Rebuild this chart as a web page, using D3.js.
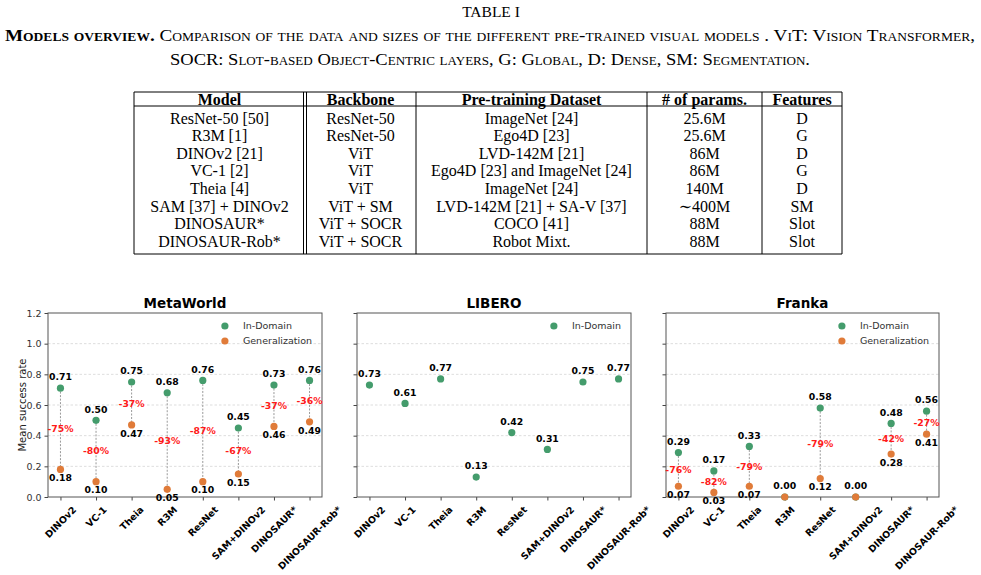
<!DOCTYPE html>
<html lang="en">
<head>
<meta charset="utf-8">
<title>Models overview</title>
<script src="https://d3js.org/d3.v7.min.js"></script>
<style>
  body { margin: 0; background: #fff; }
  svg text { fill: #000; }
</style>
</head>
<body>
<div id="page"></div>

<script type="text/javascript">
	// ---- table data ----
	var tableHeader = ['Model', 'Backbone', 'Pre-training Dataset', '# of params.', 'Features'];
	var tableModels = ['ResNet-50 [50]', 'R3M [1]', 'DINOv2 [21]', 'VC-1 [2]', 'Theia [4]', 'SAM [37] + DINOv2', 'DINOSAUR*', 'DINOSAUR-Rob*'];
	var tableBackbones = ['ResNet-50', 'ResNet-50', 'ViT', 'ViT', 'ViT', 'ViT + SM', 'ViT + SOCR', 'ViT + SOCR'];
	var tableDatasets = ['ImageNet [24]', 'Ego4D [23]', 'LVD-142M [21]', 'Ego4D [23] and ImageNet [24]', 'ImageNet [24]', 'LVD-142M [21] + SA-V [37]', 'COCO [41]', 'Robot Mixt.'];
	var tableParams = ['25.6M', '25.6M', '86M', '86M', '140M', '\u223C400M', '88M', '88M'];
	var tableFeatures = ['D', 'G', 'D', 'G', 'D', 'SM', 'Slot', 'Slot'];

	// ---- chart data ----
	var models = ['DINOv2', 'VC-1', 'Theia', 'R3M', 'ResNet', 'SAM+DINOv2', 'DINOSAUR*', 'DINOSAUR-Rob*'];
	var yTicks = [0.0, 0.2, 0.4, 0.6, 0.8, 1.0, 1.2];

	var metaIn  = [0.71, 0.50, 0.75, 0.68, 0.76, 0.45, 0.73, 0.76];
	var metaGen = [0.18, 0.10, 0.47, 0.05, 0.10, 0.15, 0.46, 0.49];
	var metaPct = [-75, -80, -37, -93, -87, -67, -37, -36];

	var liberoIn = [0.73, 0.61, 0.77, 0.13, 0.42, 0.31, 0.75, 0.77];

	var frankaIn  = [0.29, 0.17, 0.33, 0.00, 0.58, 0.00, 0.48, 0.56];
	var frankaGen = [0.07, 0.03, 0.07, 0.00, 0.12, 0.00, 0.28, 0.41];
	var frankaPct = [-76, -82, -79, null, -79, null, -42, -27];

	var green = '#449c6c', orange = '#e07b39', red = '#ff1a1a';
	var serif = '"Liberation Serif", "DejaVu Serif", serif',
		sans = '"DejaVu Sans", sans-serif';

	var svg = d3.select('#page').append('svg')
		.attr('width', 981)
		.attr('height', 575)
		.style('display', 'block');
	svg.append('rect').attr('width', 981).attr('height', 575).attr('fill', '#fff');

	// ---- caption ----
	svg.append('text')
		.attr('x', 491).attr('y', 17)
		.attr('text-anchor', 'middle')
		.style('font-family', serif).style('font-size', '15.5px')
		.text('TABLE I');

	var cap1 = svg.append('text')
		.attr('x', 5).attr('y', 41)
		.style('font-family', serif).style('font-size', '17px')
		.style('font-variant', 'small-caps');
	cap1.append('tspan').style('font-weight', 'bold').text('Models overview.');
	cap1.append('tspan').text(' Comparison of the data and sizes of the different pre-trained visual models . ViT: Vision Transformer,');
	cap1.attr('textLength', 970).attr('lengthAdjust', 'spacingAndGlyphs');

	svg.append('text')
		.attr('x', 170).attr('y', 65)
		.style('font-family', serif).style('font-size', '17px')
		.style('font-variant', 'small-caps')
		.attr('textLength', 640).attr('lengthAdjust', 'spacingAndGlyphs')
		.text('SOCR: Slot-based Object-Centric layers, G: Global, D: Dense, SM: Segmentation.');

	// ---- table ----
	var colEdges = [134, 305, 416, 647, 762, 842];
	var tTop = 92, tHead = 106, tBottom = 254, rowStep = 17.6, firstRow = 118;
	var tbl = svg.append('g');
	var tableCols = [tableModels, tableBackbones, tableDatasets, tableParams, tableFeatures];

	[tTop, tHead, tBottom].forEach(function(y){
		tbl.append('line').attr('x1', colEdges[0]).attr('x2', colEdges[5])
			.attr('y1', y).attr('y2', y).attr('stroke', '#000').attr('stroke-width', 1);
	});
	[134, 303.5, 306.5, 416, 647, 762, 842].forEach(function(x){
		tbl.append('line').attr('x1', x).attr('x2', x)
			.attr('y1', tTop).attr('y2', tBottom).attr('stroke', '#000').attr('stroke-width', 1);
	});
	for (var c=0;c<tableCols.length;c++){
		var cx = (colEdges[c] + colEdges[c+1]) / 2;
		tbl.append('text')
			.attr('x', cx).attr('y', 99).attr('dy', '0.35em')
			.attr('text-anchor', 'middle')
			.style('font-family', serif).style('font-size', '16px').style('font-weight', 'bold')
			.text(tableHeader[c]);
		tableCols[c].forEach(function(v, i){
			tbl.append('text')
				.attr('x', cx).attr('y', firstRow + i*rowStep).attr('dy', '0.35em')
				.attr('text-anchor', 'middle')
				.style('font-family', serif).style('font-size', '16px')
				.text(v);
		});
	}

	// ---- charts ----
	var yTop = 313, yBot = 497;
	var y = d3.scaleLinear().domain([0, 1.2]).range([yBot, yTop]);

	function drawPanel(left, right, title, inVals, genVals, pctVals, showYLabels){
		var g = svg.append('g');
		var x = d3.scaleLinear().domain([-0.35, models.length - 0.65]).range([left, right]);

		// grid
		g.selectAll('.grid').data(yTicks.slice(1, -1)).enter().append('line')
			.attr('x1', left).attr('x2', right)
			.attr('y1', function(d){ return y(d); }).attr('y2', function(d){ return y(d); })
			.attr('stroke', '#d4d4d4').attr('stroke-width', 0.8).attr('stroke-dasharray', '2.5,2');

		// axes
		var yAxis = d3.axisLeft(y).tickValues(yTicks).tickSize(3.5).tickPadding(3)
			.tickFormat(showYLabels ? d3.format('.1f') : function(){ return ''; });
		var ya = g.append('g').attr('transform', 'translate(' + left + ',0)').call(yAxis);
		ya.select('.domain').remove();
		ya.selectAll('line').attr('stroke', '#444');
		ya.selectAll('text').style('font-family', sans).style('font-size', '9.5px').style('fill', '#333');

		var xAxis = d3.axisBottom(x).tickValues(d3.range(models.length)).tickSize(3.5).tickFormat('');
		var xa = g.append('g').attr('transform', 'translate(0,' + yBot + ')').call(xAxis);
		xa.select('.domain').remove();
		xa.selectAll('line').attr('stroke', '#444');

		g.append('rect').attr('x', left).attr('y', yTop)
			.attr('width', right - left).attr('height', yBot - yTop)
			.attr('fill', 'none').attr('stroke', '#555').attr('stroke-width', 1);

		// rotated category labels, bbox centred under tick
		models.forEach(function(m, i){
			var t = g.append('text')
				.attr('text-anchor', 'middle').attr('dominant-baseline', 'central')
				.style('font-family', sans).style('font-size', '9.4px').style('font-weight', 'bold')
				.text(m);
			var w = t.node().getComputedTextLength(), h = 11;
			t.attr('transform', 'translate(' + x(i) + ',' + (yBot + 7 + (w + h) / 2.83) + ') rotate(-45)');
		});

		// title
		g.append('text')
			.attr('x', (left + right) / 2).attr('y', 303).attr('dy', '0.35em')
			.attr('text-anchor', 'middle')
			.style('font-family', sans).style('font-size', '13.5px').style('font-weight', 'bold')
			.text(title);

		// connectors
		if (genVals){
			models.forEach(function(m, i){
				if (pctVals[i] === null) return;
				g.append('line')
					.attr('x1', x(i)).attr('x2', x(i))
					.attr('y1', y(inVals[i])).attr('y2', y(genVals[i]))
					.attr('stroke', '#999').attr('stroke-width', 1).attr('stroke-dasharray', '2,1.5');
			});
		}

		g.selectAll('.pin').data(inVals).enter().append('circle')
			.attr('cx', function(d, i){ return x(i); })
			.attr('cy', function(d){ return y(d); })
			.attr('r', 3.6).attr('fill', green);
		if (genVals){
			g.selectAll('.pgen').data(genVals).enter().append('circle')
				.attr('cx', function(d, i){ return x(i); })
				.attr('cy', function(d){ return y(d); })
				.attr('r', 3.6).attr('fill', orange);
		}

		// value labels
		inVals.forEach(function(v, i){
			g.append('text')
				.attr('x', x(i)).attr('y', y(v) - 11).attr('dy', '0.35em')
				.attr('text-anchor', 'middle')
				.style('font-family', sans).style('font-size', '9.3px').style('font-weight', 'bold')
				.text(v.toFixed(2));
		});
		if (genVals){
			genVals.forEach(function(v, i){
				if (pctVals[i] === null) return;
				g.append('text')
					.attr('x', x(i)).attr('y', y(v) + 8.5).attr('dy', '0.35em')
					.attr('text-anchor', 'middle')
					.style('font-family', sans).style('font-size', '9.3px').style('font-weight', 'bold')
					.text(v.toFixed(2));
				g.append('text')
					.attr('x', x(i)).attr('y', y((v + inVals[i]) / 2)).attr('dy', '0.35em')
					.attr('text-anchor', 'middle')
					.style('font-family', sans).style('font-size', '9.3px').style('font-weight', 'bold')
					.style('fill', red)
					.text(pctVals[i] + '%');
			});
		}

		// legend, right aligned
		var items = genVals ? [['In-Domain', green], ['Generalization', orange]] : [['In-Domain', green]];
		var lg = g.append('g');
		var texts = items.map(function(it, k){
			return lg.append('text')
				.attr('y', 326 + k*15).attr('dy', '0.35em')
				.style('font-family', sans).style('font-size', '9.5px').style('fill', '#333')
				.text(it[0]);
		});
		var maxW = d3.max(texts, function(t){ return t.node().getComputedTextLength(); });
		var tx = right - 10 - maxW;
		texts.forEach(function(t, k){
			t.attr('x', tx);
			lg.append('circle').attr('cx', tx - 18).attr('cy', 326 + k*15).attr('r', 3.6).attr('fill', items[k][1]);
		});
	}

	// y label
	svg.append('text')
		.attr('transform', 'translate(22,' + ((yTop + yBot) / 2) + ') rotate(-90)')
		.attr('text-anchor', 'middle').attr('dy', '0.35em')
		.style('font-family', sans).style('font-size', '10px').style('fill', '#222')
		.text('Mean success rate');

	drawPanel(48, 322, 'MetaWorld', metaIn, metaGen, metaPct, true);
	drawPanel(357, 631, 'LIBERO', liberoIn, null, null, false);
	drawPanel(666, 939, 'Franka', frankaIn, frankaGen, frankaPct, false);
</script>
</body>
</html>
